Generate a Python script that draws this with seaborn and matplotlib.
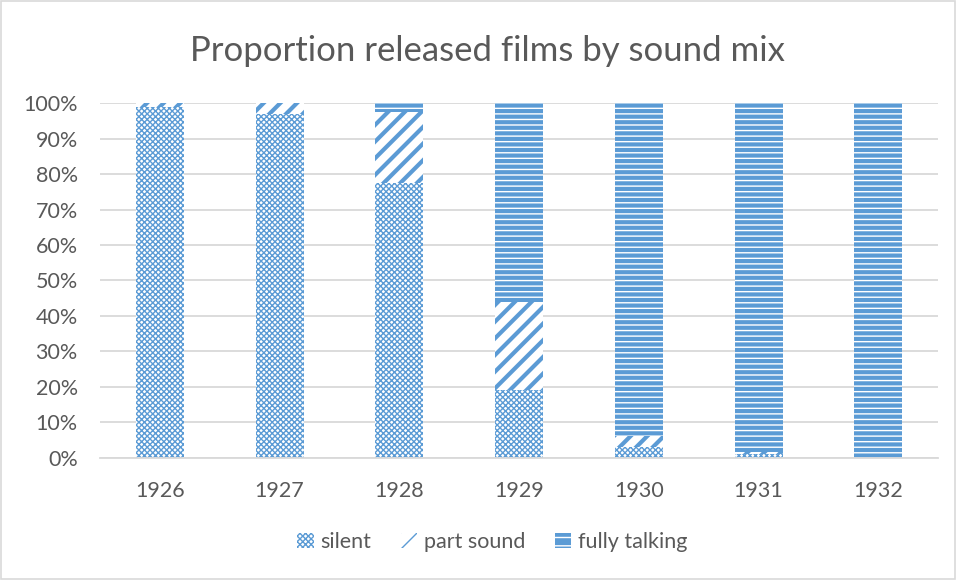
import matplotlib
matplotlib.use("Agg")
import matplotlib.pyplot as plt
import seaborn as sns
import pandas as pd
import numpy as np
from matplotlib.patches import Patch, Rectangle

years = ["1926", "1927", "1928", "1929", "1930", "1931", "1932"]
silent = [99, 97, 77.5, 19, 3, 1, 0]
part_sound = [1, 3, 20, 25, 3, 0.5, 0]
fully_talking = [0, 0, 2.5, 56, 94, 98.5, 100]
y_ticks = [0, 10, 20, 30, 40, 50, 60, 70, 80, 90, 100]

BLUE = "#5B9BD5"
TEXT = "#595959"
GRID = "#D9D9D9"

sns.set_theme(style="white")
plt.rcParams["font.family"] = ["Lato", "DejaVu Sans"]

df = pd.DataFrame({"year": years, "silent": silent, "part": part_sound, "talk": fully_talking})
df["cum_part"] = df["silent"] + df["part"]
df["cum_talk"] = df["cum_part"] + df["talk"]

fig = plt.figure(figsize=(9.56, 5.80), dpi=100)
fig.patch.set_facecolor("white")
ax = fig.add_axes([0.1046, 0.2109, 0.9764 - 0.1046 + 0.005, 0.8219 - 0.2109])

# fully talking (top layer, drawn first as full stack)
plt.rcParams["hatch.linewidth"] = 1.0
sns.barplot(data=df, x="year", y="cum_talk", color=BLUE, width=0.4, ax=ax,
            saturation=1, hatch="---", edgecolor="white", linewidth=0)
h_talk = Patch(facecolor=BLUE, edgecolor="white", hatch="--", linewidth=0, label="fully talking")
# part sound
plt.rcParams["hatch.linewidth"] = 3.0
sns.barplot(data=df, x="year", y="cum_part", color="white", width=0.4, ax=ax,
            saturation=1, hatch="//", edgecolor=BLUE, linewidth=0)
h_part = Patch(facecolor="white", edgecolor=BLUE, hatch="//", linewidth=0, label="part sound")
# silent
plt.rcParams["hatch.linewidth"] = 1.0
sns.barplot(data=df, x="year", y="silent", color="white", width=0.4, ax=ax,
            saturation=1, hatch="xxxxxx", edgecolor=BLUE, linewidth=0)
h_silent = Patch(facecolor="white", edgecolor=BLUE, hatch="xxxxxx", linewidth=0, label="silent")

ax.set_ylim(0, 100)
ax.set_xlim(-0.5, 6.5)
ax.set_yticks(y_ticks)
ax.set_yticklabels([f"{v}%" for v in y_ticks])
ax.yaxis.grid(True, color=GRID, linewidth=1.3)
ax.set_axisbelow(True)
for s in ["top", "right", "left"]:
    ax.spines[s].set_visible(False)
ax.spines["bottom"].set_color(GRID)
ax.spines["bottom"].set_linewidth(1.3)
ax.set_xlabel("")
ax.set_ylabel("")
ax.tick_params(axis="y", length=0, pad=16, labelsize=15.5, labelcolor=TEXT)
ax.tick_params(axis="x", length=0, pad=17, labelsize=15.5, labelcolor=TEXT)

fig.text(0.51, 1 - 51 / 580, "Proportion released films by sound mix",
         ha="center", va="center", fontsize=25, color=TEXT)

fig.legend(handles=[h_silent, h_part, h_talk], loc="center", bbox_to_anchor=(0.515, 1 - 542 / 580),
           ncol=3, frameon=False, fontsize=15.5, labelcolor=TEXT,
           handlelength=0.75, handleheight=0.75, handletextpad=0.3, columnspacing=1.4)

fig.add_artist(Rectangle((0.001, 0.001), 0.998, 0.997, transform=fig.transFigure,
                         fill=False, edgecolor=GRID, linewidth=1.2))

fig.savefig("out.png", dpi=100)
